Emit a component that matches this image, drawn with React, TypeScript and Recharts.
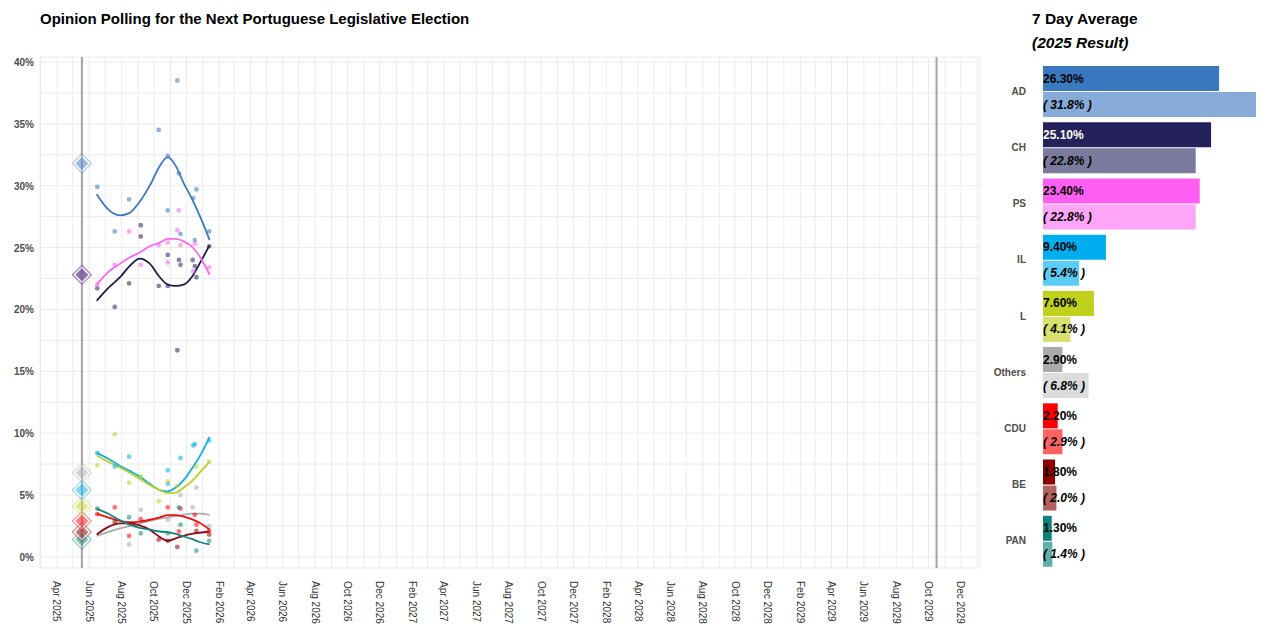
import React from 'react';
import {
  ComposedChart, Line, Scatter, XAxis, YAxis, CartesianGrid, ReferenceLine,
  BarChart, Bar, Cell, LabelList,
} from 'recharts';

const DAY = 86400000;
const d = (s: string) => Date.UTC(+s.slice(0, 4), +s.slice(5, 7) - 1, +s.slice(8, 10)) / DAY;
const FONT = '"Liberation Sans", Arial, Helvetica, sans-serif';

// ---- categories & colours ----
const parties = ['AD', 'CH', 'PS', 'IL', 'L', 'Others', 'CDU', 'BE', 'PAN'];
const partyColors = ['#3a78c0', '#23205a', '#ff5ef2', '#00aeef', '#bfd11a', '#aaaaaa', '#ff0000', '#8b0000', '#0b837a'];
const resultColors = ['#86abd9', '#7a7a9c', '#ffa5f8', '#5ccbf5', '#d8e06e', '#dcdcdc', '#ff6262', '#b36060', '#5fb0aa'];
const lineColors = ['#3a78c0', '#1e1b4b', '#ff66ee', '#12aee0', '#b9d02a', '#aaaaaa', '#ee1111', '#8b0a14', '#12857c'];

// ---- bar panel values ----
const avg7 = [26.3, 25.1, 23.4, 9.4, 7.6, 2.9, 2.2, 1.8, 1.3];
const result2025 = [31.8, 22.8, 22.8, 5.4, 4.1, 6.8, 2.9, 2.0, 1.4];

// ---- key dates ----
const electionDate = '2025-05-18';
const nextElectionDate = '2029-10-16';
const xDomainStart = '2025-02-28';
const xDomainEnd = '2030-01-06';

// ---- trend lines ----
const trendDates = ['2025-06-15', '2025-07-06', '2025-07-29', '2025-08-16', '2025-09-04', '2025-09-23', '2025-10-12', '2025-10-27', '2025-11-11', '2025-11-26', '2025-12-11', '2025-12-26', '2026-01-14'];
const trendAD = [29.3, 28.1, 27.6, 27.8, 28.7, 30.0, 31.6, 32.3, 31.6, 30.2, 29.0, 27.6, 25.6];
const trendCH = [20.7, 21.7, 22.6, 23.5, 24.1, 23.7, 22.6, 22.0, 21.9, 22.0, 22.6, 23.7, 25.2];
const trendPS = [22.0, 23.0, 23.7, 24.2, 24.6, 25.1, 25.4, 25.7, 25.7, 25.5, 25.1, 24.3, 22.8];
const trendIL = [8.4, 7.95, 7.35, 6.95, 6.5, 5.9, 5.4, 5.3, 5.6, 6.2, 7.1, 8.1, 9.7];
const trendL = [8.2, 7.7, 7.2, 6.8, 6.3, 5.8, 5.4, 5.15, 5.2, 5.6, 6.1, 6.8, 7.7];
const trendOthers = [1.7, 2.0, 2.3, 2.5, 2.7, 2.9, 3.1, 3.2, 3.3, 3.4, 3.5, 3.5, 3.4];
const trendCDU = [3.5, 3.2, 2.9, 2.8, 2.85, 3.0, 3.2, 3.38, 3.38, 3.25, 3.05, 2.75, 2.2];
const trendBE = [1.8, 2.4, 2.7, 2.7, 2.55, 2.2, 1.6, 1.3, 1.5, 1.7, 1.85, 1.95, 2.05];
const trendPAN = [3.9, 3.5, 2.95, 2.6, 2.35, 2.2, 2.05, 2.0, 1.85, 1.65, 1.45, 1.2, 1.0];
const trends = [trendAD, trendCH, trendPS, trendIL, trendL, trendOthers, trendCDU, trendBE, trendPAN];

// ---- individual polls [date, value] ----
const pollsAD: [string, number][] = [['2025-06-16', 29.9], ['2025-07-19', 26.3], ['2025-08-15', 28.9], ['2025-10-10', 34.5], ['2025-10-27', 32.4], ['2025-10-27', 28.0], ['2025-11-14', 38.5], ['2025-11-17', 31.0], ['2025-11-20', 26.1], ['2025-12-14', 29.0], ['2025-12-20', 29.7], ['2025-12-17', 25.6], ['2026-01-13', 26.3]];
const pollsCH: [string, number][] = [['2025-06-16', 21.7], ['2025-07-19', 20.2], ['2025-08-15', 22.1], ['2025-09-06', 26.8], ['2025-09-06', 25.9], ['2025-10-10', 21.9], ['2025-10-27', 24.4], ['2025-10-27', 21.9], ['2025-11-14', 16.7], ['2025-11-17', 24.0], ['2025-11-20', 23.6], ['2025-12-13', 24.0], ['2025-12-17', 23.5], ['2025-12-20', 22.6], ['2026-01-13', 25.1]];
const pollsPS: [string, number][] = [['2025-06-16', 22.0], ['2025-07-19', 23.6], ['2025-08-15', 26.3], ['2025-09-06', 23.6], ['2025-10-10', 25.2], ['2025-10-27', 25.4], ['2025-10-27', 23.8], ['2025-11-17', 28.0], ['2025-11-14', 26.4], ['2025-11-20', 25.2], ['2025-12-14', 23.1], ['2025-12-17', 25.3], ['2026-01-13', 23.4]];
const pollsIL: [string, number][] = [['2025-06-16', 8.4], ['2025-07-19', 7.3], ['2025-08-15', 8.1], ['2025-10-27', 7.0], ['2025-10-27', 5.9], ['2025-11-20', 8.0], ['2025-12-14', 9.0], ['2025-12-17', 9.1], ['2026-01-13', 9.4]];
const pollsL: [string, number][] = [['2025-06-16', 7.4], ['2025-07-19', 9.9], ['2025-08-15', 6.0], ['2025-09-06', 6.5], ['2025-10-10', 4.5], ['2025-10-27', 6.1], ['2025-11-14', 5.7], ['2025-12-20', 7.3], ['2026-01-13', 7.7]];
const pollsOthers: [string, number][] = [['2025-08-15', 1.0], ['2025-09-06', 3.8], ['2025-10-27', 3.0], ['2025-11-20', 5.0], ['2025-12-13', 4.0], ['2025-12-20', 5.6], ['2026-01-13', 2.5]];
const pollsCDU: [string, number][] = [['2025-06-16', 3.45], ['2025-07-19', 4.0], ['2025-08-15', 1.7], ['2025-09-06', 3.05], ['2025-10-27', 4.0], ['2025-11-17', 2.05], ['2025-11-20', 3.9], ['2025-12-17', 3.4], ['2025-12-20', 2.6], ['2026-01-13', 2.1]];
const pollsBE: [string, number][] = [['2025-07-19', 2.8], ['2025-10-10', 1.4], ['2025-10-27', 1.3], ['2025-11-14', 0.8], ['2025-12-20', 2.1], ['2026-01-13', 1.8]];
const pollsPAN: [string, number][] = [['2025-06-16', 3.9], ['2025-08-15', 3.2], ['2025-09-06', 1.9], ['2025-10-27', 1.9], ['2025-11-17', 4.0], ['2025-11-20', 2.6], ['2025-12-20', 0.5], ['2026-01-13', 1.3]];
const polls = [pollsAD, pollsCH, pollsPS, pollsIL, pollsL, pollsOthers, pollsCDU, pollsBE, pollsPAN];

// ---- axis ticks ----
const yTicks = [0, 2.5, 5, 7.5, 10, 12.5, 15, 17.5, 20, 22.5, 25, 27.5, 30, 32.5, 35, 37.5, 40];
const monthNames = ['Jan', 'Feb', 'Mar', 'Apr', 'May', 'Jun', 'Jul', 'Aug', 'Sep', 'Oct', 'Nov', 'Dec'];
const monthTicks: number[] = [];
for (let y = 2025; y <= 2030; y++) {
  for (let m = 0; m < 12; m++) {
    const t = Date.UTC(y, m, 1) / DAY;
    if (t >= d(xDomainStart) && t <= d(xDomainEnd)) monthTicks.push(t);
  }
}

const trendData = trends.map((arr) => arr.map((v, i) => ({ x: d(trendDates[i]), v })));
const pollData = polls.map((arr) => arr.map(([s, v]) => ({ x: d(s), v })));
const diamondData = result2025.map((v) => [{ x: d(electionDate), v }]);
const barData = parties.map((name, i) => ({ name, cur: avg7[i], res: result2025[i] }));
const diamondOrder = parties.map((_, i) => i).reverse();

const XTick = (props: any) => {
  const { x, payload } = props;
  const dt = new Date(payload.value * DAY);
  const m = dt.getUTCMonth();
  if (m % 2 === 0) return null;
  const label = `${monthNames[m]} ${dt.getUTCFullYear()}`;
  const y = 581;
  return (
    <text x={x} y={y} transform={`rotate(90, ${x}, ${y})`} textAnchor="start" dominantBaseline="central"
      fontFamily={FONT} fontSize={10} fill="#333">{label}</text>
  );
};

const YTick = (props: any) => {
  const { y, payload } = props;
  if (payload.value % 5 !== 0) return null;
  return (
    <text x={34} y={y + 0.5} textAnchor="end" dominantBaseline="central" fontFamily={FONT} fontSize={10}
      fontWeight="bold" fill="#4d4d4d">{`${payload.value}%`}</text>
  );
};

const CatTick = (props: any) => {
  const { y, payload } = props;
  return (
    <text x={46} y={y} textAnchor="end" dominantBaseline="central" fontFamily={FONT} fontSize={10}
      fontWeight="bold" fill="#4d4d4d">{payload.value}</text>
  );
};

const dot = (color: string) => (p: any) => (
  <circle cx={p.cx} cy={p.cy} r={2.4} fill={color} fillOpacity={0.55} />
);

const diamond = (color: string) => (p: any) => {
  const { cx, cy } = p;
  const o = 9.5, i = 6.5;
  return (
    <g>
      <path d={`M${cx},${cy - o}L${cx + o},${cy}L${cx},${cy + o}L${cx - o},${cy}Z`} fill="#ffffff" fillOpacity={0.25}
        stroke={color} strokeOpacity={0.4} strokeWidth={1.2} />
      <path d={`M${cx},${cy - i}L${cx + i},${cy}L${cx},${cy + i}L${cx - i},${cy}Z`} fill={color} fillOpacity={0.5} />
    </g>
  );
};

const curLabel = (p: any) => {
  const { x, y, height, value, index } = p;
  return (
    <text x={x} y={y + height / 2} dominantBaseline="central" fontFamily={FONT} fontSize={12} fontWeight="bold"
      fill={index === 1 ? '#ffffff' : '#000000'}>{`${Number(value).toFixed(2)}%`}</text>
  );
};

const resLabel = (p: any) => {
  const { x, y, height, value } = p;
  return (
    <text x={x} y={y + height / 2} dominantBaseline="central" fontFamily={FONT} fontSize={12} fontWeight="bold"
      fontStyle="italic" fill="#000000">{`( ${Number(value).toFixed(1)}% )`}</text>
  );
};

export default function App() {
  return (
    <div style={{ position: 'fixed', left: 0, top: 0, width: 1280, height: 640, background: '#fff', fontFamily: FONT }}>
      <div style={{ position: 'absolute', left: 40, top: 9, fontSize: 15, fontWeight: 'bold', lineHeight: '20px', color: '#000' }}>
        Opinion Polling for the Next Portuguese Legislative Election
      </div>
      <div style={{ position: 'absolute', left: 1032, top: 9, fontSize: 15.5, fontWeight: 'bold', lineHeight: '20px', color: '#000' }}>
        7 Day Average
      </div>
      <div style={{ position: 'absolute', left: 1032, top: 33, fontSize: 15.5, fontWeight: 'bold', fontStyle: 'italic', lineHeight: '20px', color: '#000' }}>
        (2025 Result)
      </div>

      <div style={{ position: 'absolute', left: 0, top: 0 }}>
        <ComposedChart width={1000} height={640} margin={{ top: 57, right: 20, bottom: 0, left: 0 }}>
          <CartesianGrid stroke="#ebebeb" strokeWidth={1} />
          <XAxis type="number" dataKey="x" domain={[d(xDomainStart), d(xDomainEnd)]} ticks={monthTicks} interval={0}
            tick={<XTick />} tickLine={false} axisLine={false} height={72} allowDataOverflow />
          <YAxis type="number" dataKey="v" domain={[-0.9, 40.4]} ticks={yTicks} interval={0} tick={<YTick />}
            tickLine={false} axisLine={false} width={40} allowDataOverflow />
          <ReferenceLine x={d(electionDate)} stroke="#a3a3a3" strokeWidth={2} />
          <ReferenceLine x={d(nextElectionDate)} stroke="#a3a3a3" strokeWidth={2} />
          {parties.map((p, i) => (
            <Scatter key={`s${p}`} data={pollData[i]} dataKey="v" shape={dot(partyColors[i])} isAnimationActive={false} />
          ))}
          {parties.map((p, i) => (
            <Line key={`l${p}`} data={trendData[i]} dataKey="v" type="monotone" stroke={lineColors[i]} strokeWidth={1.8}
              dot={false} activeDot={false} isAnimationActive={false} />
          ))}
          {diamondOrder.map((i) => (
            <Scatter key={`d${parties[i]}`} data={diamondData[i]} dataKey="v" shape={diamond(partyColors[i])} isAnimationActive={false} />
          ))}
        </ComposedChart>
      </div>

      <div style={{ position: 'absolute', left: 980, top: 0 }}>
        <BarChart layout="vertical" width={300} height={640} data={barData}
          margin={{ top: 63, right: 16, bottom: 71, left: 0 }} barSize={25} barGap={1}>
          <XAxis type="number" domain={[0, 33]} hide />
          <YAxis type="category" dataKey="name" width={63} tick={<CatTick />} tickLine={false} axisLine={false} interval={0} />
          <Bar dataKey="cur" isAnimationActive={false}>
            {barData.map((_, i) => <Cell key={`c${i}`} fill={partyColors[i]} />)}
            <LabelList dataKey="cur" content={curLabel} />
          </Bar>
          <Bar dataKey="res" isAnimationActive={false}>
            {barData.map((_, i) => <Cell key={`r${i}`} fill={resultColors[i]} />)}
            <LabelList dataKey="res" content={resLabel} />
          </Bar>
        </BarChart>
      </div>
    </div>
  );
}
